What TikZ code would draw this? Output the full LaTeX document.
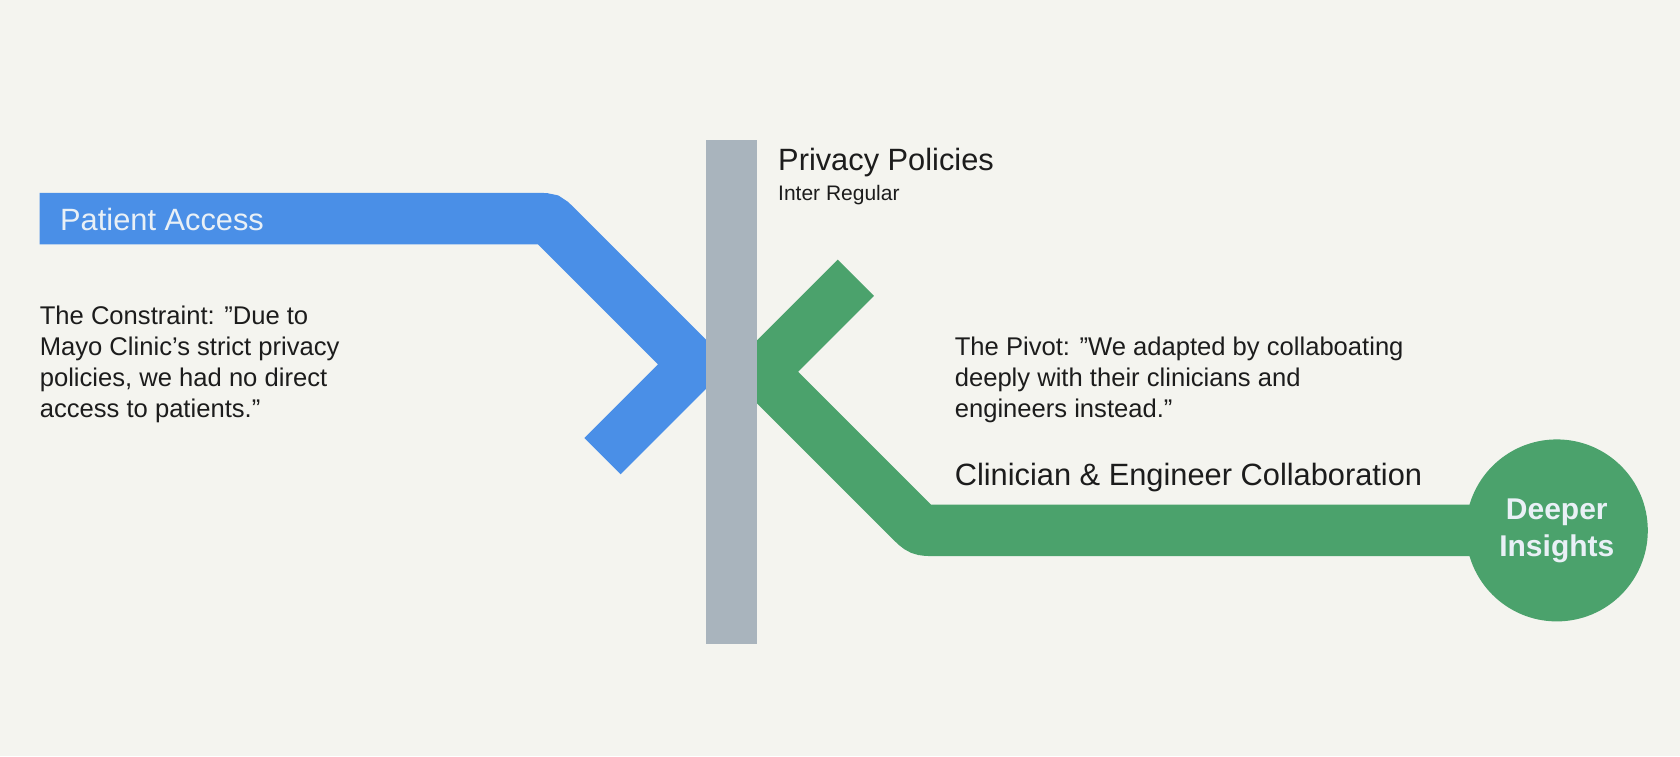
\documentclass[tikz,border=0pt]{standalone}
\usepackage{fontspec}
\setmainfont{Liberation Sans}
\usetikzlibrary{calc}
\definecolor{bg}{HTML}{F4F4EF}
\definecolor{pblue}{HTML}{4A8FE7}
\definecolor{pgreen}{HTML}{4BA26C}
\definecolor{pgray}{HTML}{A9B4BD}
\definecolor{ink}{HTML}{1C1C1C}
\definecolor{lighttxt}{HTML}{E9F0F6}
\begin{document}
\begin{tikzpicture}[x=1pt,y=-1pt,
  band/.style={line width=51.4pt, line join=miter},
  bigtxt/.style={inner sep=0pt, text=ink, font=\fontsize{30.8}{36}\selectfont},
  bodytxt/.style={inner sep=0pt, text=ink, align=left, font=\fontsize{25.6}{31}\selectfont},
]
\fill[bg] (0,0) rectangle (1680,756);
\useasboundingbox (0,0) rectangle (1680,756);

% blue route
\coordinate (bS) at (39.6,218.6);
\coordinate (bB) at (548.6,218.6);
\coordinate (bT) at (694.3,364.3);
\coordinate (bE) at (602.5,456.1);
\draw[band, pblue] (bS) -- ([xshift=-11pt]bB) .. controls (bB) .. ($(bB)!11pt!(bT)$) -- (bT) -- (bE);

% green route
\coordinate (gE) at (855.8,277.8);
\coordinate (gT) at (761.8,371.8);
\coordinate (gB) at (920.4,530.4);
\coordinate (gC) at (1556.8,530.4);
\draw[band, pgreen] (gE) -- (gT) -- ($(gB)!16pt!(gT)$) .. controls (gB) .. ([xshift=16pt]gB) -- (gC);

% barrier
\node[name=bar, fill=pgray, minimum width=51pt, minimum height=504pt, inner sep=0pt] at (731.5,392) {};

% destination
\node[name=insights, circle, fill=pgreen, minimum size=182pt, inner sep=0pt, align=center,
  text=lighttxt, font=\bfseries\fontsize{30}{37}\selectfont] at (gC) {Deeper\\Insights};

% labels
\node[name=patient, bigtxt, text=lighttxt, anchor=base west] at (60,230) {Patient Access};
\node[name=privacy, bigtxt, anchor=base west] at (778,170.5) {Privacy Policies};
\node[name=inter, inner sep=0pt, text=ink, font=\fontsize{21}{25}\selectfont, anchor=base west] at (778,200) {Inter Regular};
\node[name=constraint, bodytxt, anchor=north west] at (39.6,306) {The Constraint: \symbol{34}Due to\\Mayo Clinic’s strict privacy\\policies, we had no direct\\access to patients.”};
\node[name=pivot, bodytxt, anchor=north west] at (954.6,337) {The Pivot: \symbol{34}We adapted by collaboating\\deeply with their clinicians and\\engineers instead.”};
\node[name=collab, bigtxt, anchor=base west] at (954.6,485) {Clinician \& Engineer Collaboration};
\end{tikzpicture}
\end{document}
